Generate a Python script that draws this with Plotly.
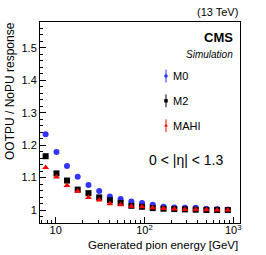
import plotly.graph_objects as go

energy = [7.7, 10.2, 13.4, 17.7, 23.4, 30.9, 40.8, 53.9, 71.2, 94, 124, 164, 217, 286, 378, 499, 659, 870]
m0 = [1.234, 1.179, 1.136, 1.103, 1.077, 1.059, 1.042, 1.034, 1.026, 1.022, 1.016, 1.010, 1.008, 1.007, 1.007, 1.004, 1.003, 1.002]
m2 = [1.166, 1.113, 1.091, 1.063, 1.052, 1.039, 1.030, 1.022, 1.013, 1.010, 1.006, 1.004, 1.003, 1.002, 1.001, 1.000, 1.000, 1.000]
mahi = [1.131, 1.102, 1.076, 1.058, 1.039, 1.031, 1.019, 1.016, 1.012, 1.010, 1.007, 1.005, 1.003, 1.002, 1.002, 1.001, 1.000, 1.000]

series_names = ["M0", "M2", "MAHI"]
colors = ["#3333ff", "#000000", "#ff0000"]
symbols = ["circle", "square", "triangle-up"]
legend_y = [0.731, 0.608, 0.484]

x_ticks = [10, 100, 1000]
x_ticktext = ["10", "10<sup>2</sup>", "10<sup>3</sup>"]
x_minor = [7, 8, 9, 20, 30, 40, 50, 60, 70, 80, 90, 200, 300, 400, 500, 600, 700, 800, 900]
y_ticks = [1.0, 1.1, 1.2, 1.3, 1.4, 1.5]
y_ticktext = ["1", "1.1", "1.2", "1.3", "1.4", "1.5"]

FONT = "Liberation Sans, Arial, sans-serif"

fig = go.Figure()
for name, vals, c, s in zip(series_names, [m0, m2, mahi], colors, symbols):
    fig.add_trace(go.Scatter(x=energy, y=vals, mode="markers", name=name,
                             marker=dict(color=c, symbol=s, size=6, line=dict(width=0)),
                             showlegend=False))

# legend drawn on overlay axes
for name, c, s, ly in zip(series_names, colors, symbols, legend_y):
    fig.add_trace(go.Scatter(x=[0.63], y=[ly], xaxis="x2", yaxis="y2", mode="markers",
                             marker=dict(color=c, symbol=s, size=3.5, line=dict(width=0)),
                             error_y=dict(type="constant", value=0.032, color=c, thickness=1, width=0),
                             showlegend=False, hoverinfo="skip"))
    fig.add_annotation(x=0.655, y=ly, xref="x2", yref="y2", text=name, showarrow=False,
                       xanchor="left", yanchor="middle", font=dict(family=FONT, size=11, color="black"))

fig.update_layout(
    width=266, height=255,
    margin=dict(l=40, r=26, t=22, b=32),
    paper_bgcolor="white", plot_bgcolor="white",
    font=dict(family=FONT, size=11, color="black"),
    xaxis=dict(type="log", range=[0.823, 3.077], tickvals=x_ticks, ticktext=x_ticktext,
               ticks="inside", ticklen=6, tickwidth=1, tickcolor="black",
               showline=True, linecolor="black", linewidth=1, mirror=True,
               showgrid=False, zeroline=False, ticklabelstandoff=-3,
               minor=dict(tickvals=x_minor, ticks="inside", ticklen=3, tickcolor="black", showgrid=False),
               tickfont=dict(size=11)),
    yaxis=dict(range=[0.96, 1.58], tickvals=y_ticks, ticktext=y_ticktext,
               ticks="inside", ticklen=6, tickwidth=1, tickcolor="black",
               showline=True, linecolor="black", linewidth=1, mirror=True,
               showgrid=False, zeroline=False,
               minor=dict(dtick=0.02, tick0=1.0, ticks="inside", ticklen=3, tickcolor="black", showgrid=False),
               tickfont=dict(size=11)),
    xaxis2=dict(range=[0, 1], overlaying="x", visible=False, fixedrange=True),
    yaxis2=dict(range=[0, 1], overlaying="y", visible=False, fixedrange=True),
)

fig.add_annotation(x=1.0, y=1.0, xref="paper", yref="paper", yshift=2, text="(13 TeV)",
                   showarrow=False, xanchor="right", yanchor="bottom", font=dict(size=11))
fig.add_annotation(x=0.975, y=0.925, xref="paper", yref="paper", text="<b>CMS</b>",
                   showarrow=False, xanchor="right", yanchor="middle", font=dict(size=13))
fig.add_annotation(x=0.975, y=0.84, xref="paper", yref="paper", text="<i>Simulation</i>",
                   showarrow=False, xanchor="right", yanchor="middle", font=dict(size=10))
fig.add_annotation(x=0.535, y=0.315, xref="paper", yref="paper", text="0 < |η| < 1.3",
                   showarrow=False, xanchor="left", yanchor="middle", font=dict(size=14))
fig.add_annotation(x=1.0, y=0, xref="paper", yref="paper", yshift=-14, text="Generated pion energy [GeV]",
                   showarrow=False, xanchor="right", yanchor="top", font=dict(size=11.5))
fig.add_annotation(x=0, y=1.0, xref="paper", yref="paper", xshift=-39, yshift=2, text="OOTPU / NoPU response",
                   showarrow=False, xanchor="left", yanchor="top", textangle=-90, font=dict(size=12))

fig.write_html("out.html", config={"displayModeBar": False},
               post_script="document.body.style.margin='0px';")
